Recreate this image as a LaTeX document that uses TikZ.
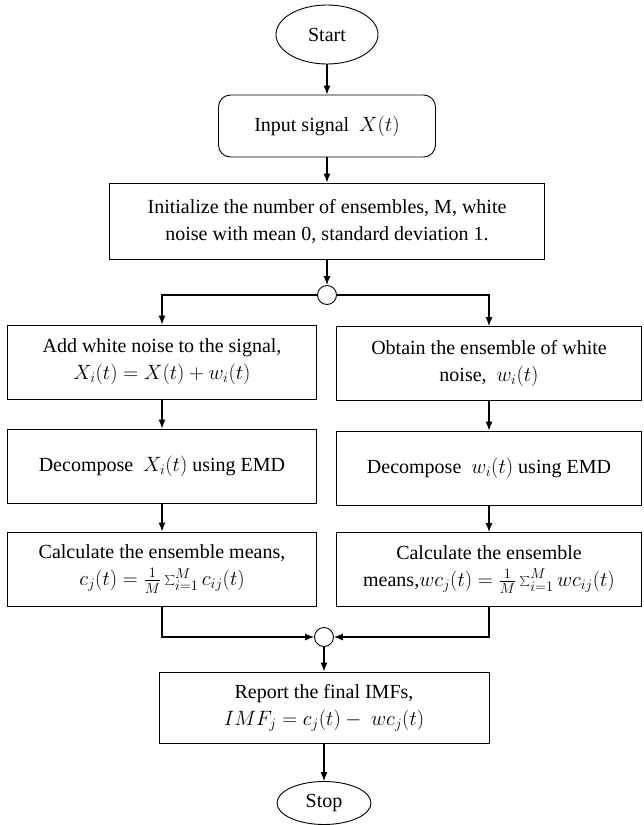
\documentclass[tikz,border=0pt]{standalone}
\usepackage{fontspec}
\setmainfont{Liberation Serif}
\usetikzlibrary{arrows.meta,shapes.geometric}
\begin{document}
\begin{tikzpicture}[x=1pt,y=-1pt,
  txt/.style={font=\fontsize{20}{27}\selectfont},
  box/.style={draw, line width=0.9pt, align=center, inner sep=0pt, txt},
  term/.style={draw, ellipse, line width=0.9pt, inner sep=0pt, txt},
  junc/.style={draw, circle, minimum size=19pt, inner sep=0pt, line width=0.9pt},
  arr/.style={-{Latex[length=9pt,width=7pt]}, line width=1.1pt},
  lbox/.style={box, minimum width=309pt, minimum height=74pt},
  rbox/.style={box, minimum width=305pt, minimum height=74pt}]
\useasboundingbox (0,0) rectangle (643,825);

\node[term, minimum width=102pt, minimum height=59pt] (start) at (327,34.5) {Start};
\node[box, rounded corners=12pt, minimum width=217pt, minimum height=62pt] (input) at (327,126) {Input signal \ $X(t)$};
\node[box, minimum width=435pt, minimum height=76pt] (init) at (327,221) {Initialize the number of ensembles, M, white\\noise with mean 0, standard deviation 1.};
\node[junc] (split) at (327,295) {};

\node[lbox] (L1) at (162,362) {Add white noise to the signal,\\$X_i(t)=X(t)+w_i(t)$};
\node[rbox] (R1) at (489,363.5) {Obtain the ensemble of white\\noise, \ $w_i(t)$};
\node[lbox] (L2) at (162,466) {Decompose \ $X_i(t)$ using EMD};
\node[rbox] (R2) at (489,468) {Decompose \ $w_i(t)$ using EMD};
\node[lbox] (L3) at (162,569) {Calculate the ensemble means,\\$c_j(t)=\frac{1}{M}\sum_{i=1}^{M}c_{ij}(t)$};
\node[rbox] (R3) at (489,569.5) {Calculate the ensemble\\means,$wc_j(t)=\frac{1}{M}\sum_{i=1}^{M}wc_{ij}(t)$};

\node[junc] (merge) at (324,637) {};
\node[box, minimum width=330pt, minimum height=71pt] (report) at (324,707.5) {Report the final IMFs,\\$IMF_j=c_j(t)-\ wc_j(t)$};
\node[term, minimum width=94pt, minimum height=43pt] (stop) at (324,803) {Stop};

\draw[arr] (start) -- (input);
\draw[arr] (input) -- (init);
\draw[arr] (init) -- (split);
\draw[arr] (split.west) -| (L1.north);
\draw[arr] (split.east) -| (R1.north);
\draw[arr] (L1) -- (L2);
\draw[arr] (L2) -- (L3);
\draw[arr] (R1) -- (R2);
\draw[arr] (R2) -- (R3);
\draw[arr] (L3.south) |- (merge.west);
\draw[arr] (R3.south) |- (merge.east);
\draw[arr] (merge) -- (report);
\draw[arr] (report) -- (stop);
\end{tikzpicture}
\end{document}
